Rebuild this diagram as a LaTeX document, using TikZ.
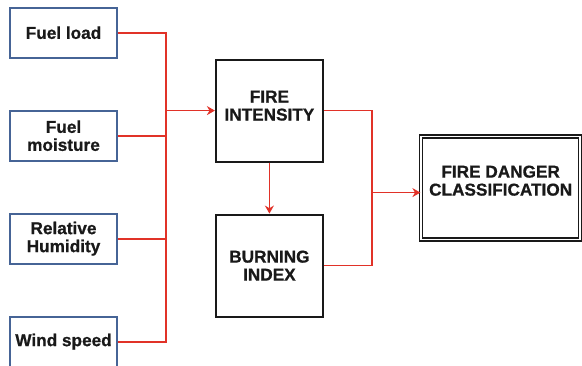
\documentclass[tikz,border=0pt]{standalone}
\usepackage{fontspec}
\setmainfont{Liberation Sans}[BoldFeatures={FakeBold=0.8}]
\usetikzlibrary{arrows.meta,positioning,calc}
\definecolor{inblue}{RGB}{70,100,150}
\definecolor{feedred}{RGB}{225,50,40}
\definecolor{inkgray}{RGB}{25,25,25}
\tikzset{
    inbox/.style={rectangle, draw=inblue, line width=1.8pt, minimum width=107pt,
                  minimum height=50pt, align=center, inner sep=0pt},
    stagebox/.style={rectangle, draw=inkgray, line width=2pt, minimum width=107pt,
                     minimum height=102pt, align=center, inner sep=0pt},
    outbox/.style={rectangle, draw=inkgray, double, line width=1.5pt,
                   double distance=1.5pt, minimum width=159pt, minimum height=103pt,
                   align=center, inner sep=0pt},
    feed/.style={draw=feedred, line width=1.8pt},
    feedarr/.style={feed, -{Stealth[length=8pt,width=9pt]}},
}

\begin{document}
\begin{tikzpicture}[x=1pt, y=1pt,
    every node/.style={font=\fontsize{17.2}{18}\selectfont\bfseries, text=inkgray}]
    \useasboundingbox (0,0) rectangle (582,366);

    % inputs
    \node[inbox] (fuel) at (63.5,333.3) {Fuel load};
    \node[inbox, below=51.2pt of fuel]  (moist) {Fuel\\moisture};
    \node[inbox, below=51.2pt of moist] (humid) {Relative\\Humidity};
    \node[inbox, below=51.2pt of humid] (wind)  {Wind speed};

    % stages
    \node[stagebox, below right=0pt and 97pt of fuel, text depth=10pt] (intens) {FIRE\\INTENSITY};
    \node[stagebox, below=51pt of intens] (burn) {BURNING\\INDEX};

    \coordinate (mid) at ($(intens.east)!0.5!(burn.east)$);
    \node[outbox, right=96.5pt of mid, text depth=15pt] (danger) {FIRE DANGER\\CLASSIFICATION};

    % connectors
    \coordinate (busL) at ($(fuel.east)+(47.7,0)$);
    \coordinate (busR) at ($(intens.east)+(48.4,0)$);
    \coordinate (dIn)  at ($(danger.west)+(0,-4.5)$);

    \draw[feed] (fuel.east) -| (busL |- wind.east) -- (wind.east);
    \draw[feed] (moist.east) -- (moist.east -| busL);
    \draw[feed] (humid.east) -- (humid.east -| busL);
    \draw[feedarr] (intens.west -| busL) -- (intens.west);
    \draw[feedarr] (intens.south) -- (burn.north);
    \draw[feed] (intens.east) -| (busR |- burn.east) -- (burn.east);
    \draw[feedarr] (busR |- dIn) -- (dIn);
\end{tikzpicture}
\end{document}
